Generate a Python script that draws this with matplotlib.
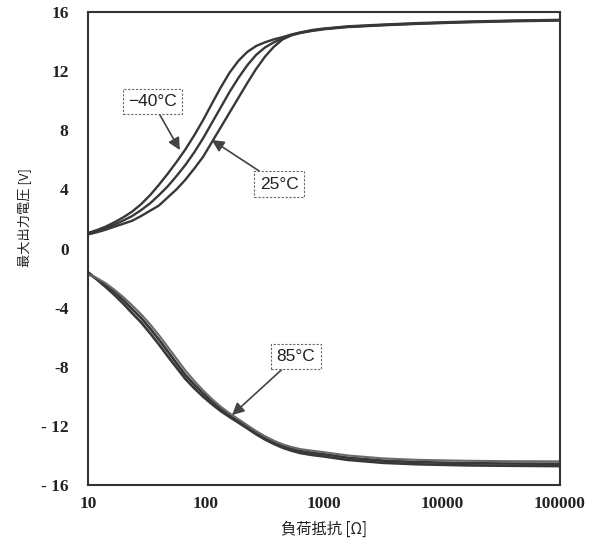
import numpy as np
import matplotlib
matplotlib.use("Agg")
import matplotlib.pyplot as plt

plt.rcParams['font.family'] = ['Noto Sans CJK JP', 'DejaVu Sans']

# load resistance [ohm]
resistance = [10, 11.9, 14.1, 16.8, 20.0, 23.7, 28.2, 33.5, 39.8, 47.3, 56.2,
              66.8, 79.4, 94.4, 112.2, 133.4, 158.5, 188.4, 223.9, 266.1, 316.2,
              375.8, 446.7, 530.9, 631.0, 794, 1000, 1585, 3162, 6310, 15849,
              39811, 100000]

# positive side, three temperatures
v_pos_m40 = [1.05, 1.25, 1.48, 1.78, 2.12, 2.5, 3.0, 3.6, 4.3, 5.05, 5.85,
             6.7, 7.65, 8.68, 9.8, 10.9, 11.9, 12.7, 13.3, 13.7, 13.95,
             14.15, 14.3, 14.48, 14.62, 14.78, 14.88, 15.03, 15.15, 15.25, 15.35,
             15.42, 15.47]
v_pos_85 = [1.0, 1.18, 1.37, 1.62, 1.9, 2.2, 2.6, 3.05, 3.6, 4.2, 4.9,
            5.65, 6.5, 7.45, 8.5, 9.55, 10.6, 11.55, 12.4, 13.1, 13.6,
            13.95, 14.22, 14.45, 14.6, 14.75, 14.86, 15.0, 15.12, 15.22, 15.32,
            15.4, 15.45]
v_pos_25 = [0.95, 1.1, 1.27, 1.48, 1.68, 1.88, 2.2, 2.55, 2.9, 3.45, 4.0,
            4.65, 5.4, 6.2, 7.2, 8.2, 9.2, 10.2, 11.2, 12.15, 12.98,
            13.65, 14.15, 14.42, 14.58, 14.72, 14.83, 14.98, 15.1, 15.2, 15.3,
            15.37, 15.42]

# negative side
v_neg_m40 = [-1.6, -2.1, -2.6, -3.15, -3.75, -4.38, -5.0, -5.72, -6.48, -7.28, -8.05,
             -8.82, -9.45, -10.02, -10.53, -11.0, -11.4, -11.78, -12.17, -12.57, -12.92,
             -13.22, -13.48, -13.68, -13.84, -13.97, -14.07, -14.3, -14.5, -14.6, -14.67,
             -14.7, -14.72]
v_neg_25 = [-1.7, -2.05, -2.45, -2.95, -3.5, -4.1, -4.7, -5.4, -6.15, -6.95, -7.75,
            -8.55, -9.2, -9.8, -10.35, -10.85, -11.27, -11.65, -12.05, -12.45, -12.8,
            -13.1, -13.35, -13.55, -13.7, -13.82, -13.92, -14.15, -14.35, -14.45, -14.52,
            -14.55, -14.56]
v_neg_85 = [-1.75, -2.0, -2.35, -2.8, -3.3, -3.85, -4.45, -5.12, -5.85, -6.65, -7.45,
            -8.25, -8.95, -9.6, -10.18, -10.7, -11.15, -11.55, -11.95, -12.35, -12.7,
            -13.0, -13.25, -13.43, -13.57, -13.68, -13.78, -14.0, -14.2, -14.3, -14.36,
            -14.39, -14.4]

x_ticks = [10, 100, 1000, 10000, 100000]
x_ticklabels = ['10', '100', '1000', '10000', '100000']
y_ticks = [16, 12, 8, 4, 0, -4, -8, -12, -16]
y_ticklabels = ['16', '12', '8', '4', '0', '-4', '-8', '- 12', '- 16']

fig = plt.figure(figsize=(6.05, 5.55), dpi=100)
ax = fig.add_axes([0.1455, 0.1261, 0.7801, 0.8523])

line_col = '#383838'
for v in [v_pos_m40, v_pos_85, v_pos_25]:
    ax.plot(resistance, v, color=line_col, lw=1.7)
ax.plot(resistance, v_neg_m40, color=line_col, lw=1.9)
ax.plot(resistance, v_neg_25, color=line_col, lw=1.9)
ax.plot(resistance, v_neg_85, color='#6a6a6a', lw=1.5)

ax.set_xscale('log')
ax.set_xlim(10, 100000)
ax.set_ylim(-16, 16)
ax.set_xticks(x_ticks)
ax.set_xticklabels(x_ticklabels)
ax.minorticks_off()
ax.set_yticks(y_ticks)
ax.set_yticklabels(y_ticklabels)
ax.tick_params(length=0)
ax.tick_params(axis='y', pad=14)
ax.tick_params(axis='x', pad=8)
for lab in ax.get_xticklabels() + ax.get_yticklabels():
    lab.set_fontfamily('Liberation Serif')
    lab.set_fontweight('bold')
    lab.set_fontsize(12.5)
    lab.set_color('#222222')

for s in ax.spines.values():
    s.set_color('#333333')
    s.set_linewidth(1.5)

ax.set_xlabel('負荷抵抗 [Ω]', fontsize=11, color='#222222')
ax.set_ylabel('最大出力電圧 [V]', fontsize=9.5, color='#222222')
ax.xaxis.set_label_coords(0.5, -0.075)
ax.yaxis.set_label_coords(-0.12, 0.565)

box = dict(boxstyle='square,pad=0.3', fc='white', ec='#666666', lw=0.8, ls=(0, (2, 1.5)))
arrow = dict(arrowstyle='-|>', color='#444444', lw=1.2, mutation_scale=18, shrinkA=0, shrinkB=0)
txt = dict(fontsize=12.5, family=['Liberation Sans', 'DejaVu Sans'], ha='center', va='center',
           bbox=box, color='#222222')
ax.annotate('\u221240°C', xy=(60, 6.66), xytext=(35, 9.95), arrowprops=arrow, **txt)
ax.annotate('25°C', xy=(112, 7.34), xytext=(416, 4.36), arrowprops=arrow, **txt)
ax.annotate('85°C', xy=(166, -11.27), xytext=(579, -7.31), arrowprops=arrow, **txt)

fig.savefig('out.png', dpi=100)
